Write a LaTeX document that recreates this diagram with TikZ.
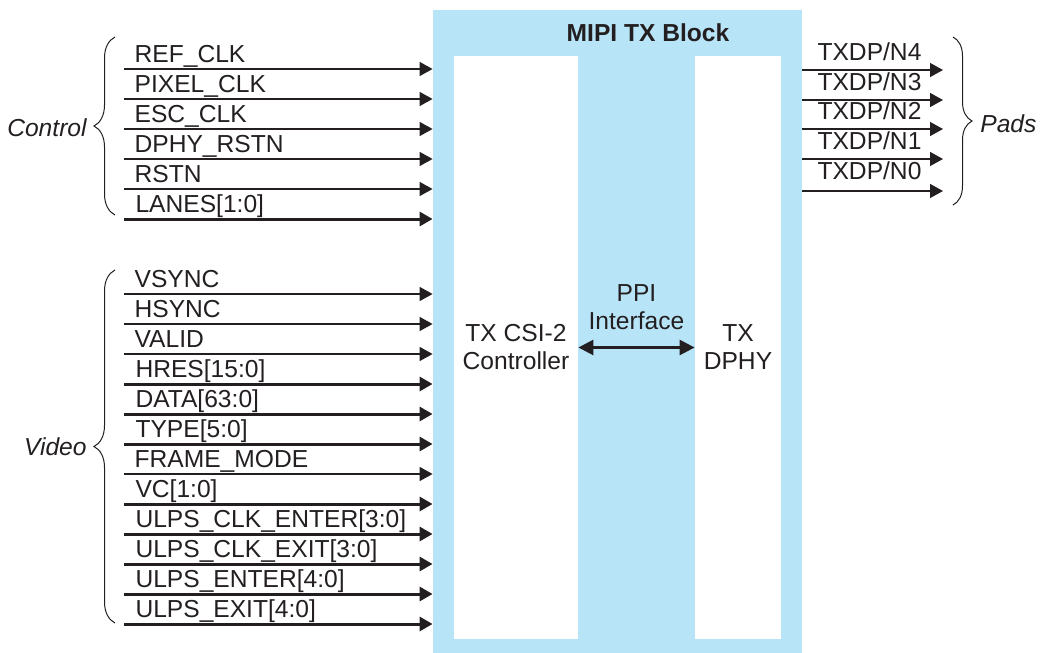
\documentclass[tikz,border=0pt]{standalone}
\usepackage{fontspec}
\setmainfont{Liberation Sans}
\usetikzlibrary{arrows.meta, positioning, decorations.pathreplacing}
\definecolor{mipiblue}{RGB}{184,228,248}
\definecolor{mipiink}{RGB}{35,31,32}

\begin{document}
\begin{tikzpicture}[
    x=0.5pt, y=-0.5pt,
    font=\fontsize{12.3}{14}\selectfont, color=mipiink,
    blk/.style={rectangle, fill=mipiblue, minimum width=184.5pt,
                minimum height=321.5pt, inner sep=0pt},
    inbox/.style={rectangle, fill=white, minimum height=291.5pt,
                  inner sep=0pt, align=center},
    sig/.style={-{Triangle[length=6.5pt, width=7pt]}, line width=0.65pt},
    bus/.style={sig, line width=1.5pt},
    lbl/.style={anchor=base west, inner sep=0pt, xshift=5pt, yshift=3.25pt},
    outlbl/.style={anchor=base west, inner sep=0pt, xshift=7.25pt, yshift=4.75pt},
    grp/.style={font=\fontsize{12.3}{14}\selectfont\itshape, inner sep=0pt},
    brc/.style={decorate, decoration={brace, amplitude=#1}, line width=0.5pt}
  ]
    \useasboundingbox (0,0) rectangle (1041,653);

    % MIPI block
    \node[blk] (mipi) at (617.5,331.5) {};
    \node[inbox, minimum width=62pt] (csi)  at (516,347.5) {TX CSI-2\\Controller};
    \node[inbox, minimum width=43pt] (dphy) at (738,347.5) {TX\\DPHY};
    \node[font=\fontsize{12.3}{14}\selectfont\bfseries, inner sep=0pt] (title) at (648,33) {MIPI TX Block};
    \node[align=center, inner sep=0pt] (ppi) at (636.5,307) {PPI\\Interface};
    \draw[{Triangle[length=7.5pt, width=7.5pt]}-{Triangle[length=7.5pt, width=7.5pt]},
          line width=1.3pt] (csi) -- (dphy);

    % control inputs
    \coordinate (refclk) at (124,69);
    \coordinate (pixclk) at (124,99);
    \coordinate (escclk) at (124,129);
    \coordinate (dphyrst) at (124,159);
    \coordinate (rstn) at (124,189);
    \coordinate (lanes) at (124,219);
    \draw[sig] (refclk)  -- (refclk -| mipi.west)  node[lbl, at start] (refclk-l)  {REF\_CLK};
    \draw[sig] (pixclk)  -- (pixclk -| mipi.west)  node[lbl, at start] (pixclk-l)  {PIXEL\_CLK};
    \draw[sig] (escclk)  -- (escclk -| mipi.west)  node[lbl, at start] (escclk-l)  {ESC\_CLK};
    \draw[sig] (dphyrst) -- (dphyrst -| mipi.west) node[lbl, at start] (dphyrst-l) {DPHY\_RSTN};
    \draw[sig] (rstn)    -- (rstn -| mipi.west)    node[lbl, at start] (rstn-l)    {RSTN};
    \draw[bus] (lanes)   -- (lanes -| mipi.west)   node[lbl, at start] (lanes-l)   {LANES[1:0]};

    % video inputs
    \coordinate (vsync) at (124,294);
    \coordinate (hsync) at (124,324);
    \coordinate (valid) at (124,354);
    \coordinate (hres) at (124,384);
    \coordinate (data) at (124,414);
    \coordinate (type) at (124,444);
    \coordinate (fmode) at (124,474);
    \coordinate (vc) at (124,504);
    \coordinate (ulpsce) at (124,534);
    \coordinate (ulpscx) at (124,564);
    \coordinate (ulpse) at (124,594);
    \coordinate (ulpsx) at (124,624);
    \draw[sig] (vsync)  -- (vsync -| mipi.west)  node[lbl, at start] (vsync-l)  {VSYNC};
    \draw[sig] (hsync)  -- (hsync -| mipi.west)  node[lbl, at start] (hsync-l)  {HSYNC};
    \draw[sig] (valid)  -- (valid -| mipi.west)  node[lbl, at start] (valid-l)  {VALID};
    \draw[bus] (hres)   -- (hres -| mipi.west)   node[lbl, at start] (hres-l)   {HRES[15:0]};
    \draw[bus] (data)   -- (data -| mipi.west)   node[lbl, at start] (data-l)   {DATA[63:0]};
    \draw[bus] (type)   -- (type -| mipi.west)   node[lbl, at start] (type-l)   {TYPE[5:0]};
    \draw[sig] (fmode)  -- (fmode -| mipi.west)  node[lbl, at start] (fmode-l)  {FRAME\_MODE};
    \draw[bus] (vc)     -- (vc -| mipi.west)     node[lbl, at start] (vc-l)     {VC[1:0]};
    \draw[bus] (ulpsce) -- (ulpsce -| mipi.west) node[lbl, at start] (ulpsce-l) {ULPS\_CLK\_ENTER[3:0]};
    \draw[bus] (ulpscx) -- (ulpscx -| mipi.west) node[lbl, at start] (ulpscx-l) {ULPS\_CLK\_EXIT[3:0]};
    \draw[bus] (ulpse)  -- (ulpse -| mipi.west)  node[lbl, at start] (ulpse-l)  {ULPS\_ENTER[4:0]};
    \draw[bus] (ulpsx)  -- (ulpsx -| mipi.west)  node[lbl, at start] (ulpsx-l)  {ULPS\_EXIT[4:0]};

    % pad outputs
    \coordinate (txn4) at (943,70);
    \coordinate (txn3) at (943,100);
    \coordinate (txn2) at (943,129);
    \coordinate (txn1) at (943,159);
    \coordinate (txn0) at (943,191);
    \draw[sig] (txn4 -| mipi.east) -- (txn4) node[outlbl, at start] (txn4-l) {TXDP/N4};
    \draw[sig] (txn3 -| mipi.east) -- (txn3) node[outlbl, at start] (txn3-l) {TXDP/N3};
    \draw[sig] (txn2 -| mipi.east) -- (txn2) node[outlbl, at start] (txn2-l) {TXDP/N2};
    \draw[sig] (txn1 -| mipi.east) -- (txn1) node[outlbl, at start] (txn1-l) {TXDP/N1};
    \draw[sig] (txn0 -| mipi.east) -- (txn0) node[outlbl, at start, yshift=1.25pt] (txn0-l) {TXDP/N0};

    % group braces
    \coordinate (ctl-bot) at (115,215);
    \coordinate (ctl-top) at (115,37);
    \coordinate (vid-bot) at (115,623);
    \coordinate (vid-top) at (115,270);
    \coordinate (pad-top) at (953,37);
    \coordinate (pad-bot) at (953,205);
    \draw[brc=10.5pt] (ctl-bot) -- (ctl-top);
    \draw[brc=10.5pt] (vid-bot) -- (vid-top);
    \draw[brc=9.5pt]  (pad-top) -- (pad-bot);
    \node[grp, anchor=east] (ctl) at (87,128) {Control};
    \node[grp, anchor=east] (vid) at (87,446.5) {Video};
    \node[grp, anchor=west] (pads) at (980,124) {Pads};
\end{tikzpicture}
\end{document}
